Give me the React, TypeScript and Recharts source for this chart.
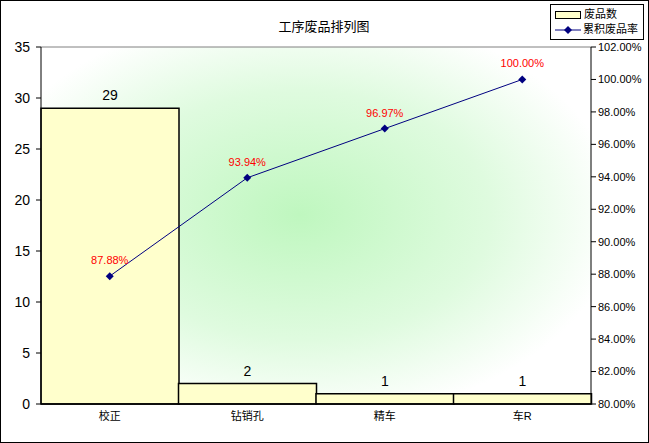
import React from 'react';
import {
  ComposedChart,
  Bar,
  Line,
  XAxis,
  YAxis,
  CartesianGrid,
  LabelList,
  Legend,
  ReferenceLine,
} from 'recharts';

const processes = ['校正', '钻销孔', '精车', '车R'];
const defectCounts = [29, 2, 1, 1];
const cumulativeRates = [87.88, 93.94, 96.97, 100.0];
const countTicks = [0, 5, 10, 15, 20, 25, 30, 35];
const rateTicks = [80, 82, 84, 86, 88, 90, 92, 94, 96, 98, 100, 102];

const data = processes.map((name, i) => ({
  name,
  count: defectCounts[i],
  rate: cumulativeRates[i],
}));

const FONT = '"Liberation Sans", Arial, "Noto Sans CJK SC", sans-serif';

const Diamond = (props: any) => {
  const { cx, cy } = props;
  if (cx == null || cy == null) return null;
  const s = 4;
  return (
    <path
      d={`M${cx},${cy - s}L${cx + s},${cy}L${cx},${cy + s}L${cx - s},${cy}Z`}
      fill="#000080"
    />
  );
};

const LegendBox = () => (
  <div
    style={{
      border: '1px solid #000',
      background: '#fff',
      width: 94,
      padding: '2px 0 2px 4px',
      fontFamily: FONT,
      fontSize: 11,
      lineHeight: '15px',
      boxSizing: 'border-box',
    }}
  >
    <div style={{ display: 'flex', alignItems: 'center' }}>
      <span
        style={{
          display: 'inline-block',
          width: 24,
          height: 6,
          background: '#FFFFCC',
          border: '1px solid #000',
          marginRight: 3,
        }}
      />
      废品数
    </div>
    <div style={{ display: 'flex', alignItems: 'center' }}>
      <svg width={26} height={10} style={{ marginRight: 2 }}>
        <line x1={0} y1={5} x2={26} y2={5} stroke="#000080" />
        <path d="M13,1L17,5L13,9L9,5Z" fill="#000080" />
      </svg>
      累积废品率
    </div>
  </div>
);

export default function App() {
  return (
    <div
      style={{
        position: 'absolute',
        left: 0,
        top: 0,
        width: 649,
        height: 443,
        border: '1px solid #000',
        boxSizing: 'border-box',
        background: '#fff',
        overflow: 'hidden',
      }}
    >
      <div style={{ position: 'absolute', left: -1, top: -1 }}>
        <ComposedChart
          width={649}
          height={443}
          data={data}
          margin={{ top: 47, right: 0, left: 0, bottom: 0 }}
          barCategoryGap={0}
          barGap={0}
          style={{ fontFamily: FONT }}
        >
          <defs>
            <radialGradient id="plotBg" cx="0.47" cy="0.47" r="0.58">
              <stop offset="0%" stopColor="#bff7bf" />
              <stop offset="60%" stopColor="#dffbdf" />
              <stop offset="100%" stopColor="#ffffff" />
            </radialGradient>
          </defs>
          <text
            x={324}
            y={31}
            textAnchor="middle"
            fontSize={13}
            fill="#000"
            fontFamily={FONT}
          >
            工序废品排列图
          </text>
          <CartesianGrid
            horizontal={false}
            vertical={false}
            fill="url(#plotBg)"
            fillOpacity={1}
          />
          <XAxis
            dataKey="name"
            height={39}
            axisLine={{ stroke: '#000', strokeWidth: 1.5 }}
            tickLine={false}
            tick={{ fontSize: 11, fill: '#000' }}
            interval={0}
          />
          <YAxis
            yAxisId="left"
            width={41}
            domain={[0, 35]}
            ticks={countTicks}
            axisLine={{ stroke: '#000' }}
            tickLine={{ stroke: '#000' }}
            tickSize={5}
            tickMargin={6}
            tick={{ fontSize: 14, fill: '#000' }}
          />
          <YAxis
            yAxisId="right"
            orientation="right"
            width={58}
            domain={[80, 102]}
            ticks={rateTicks}
            axisLine={{ stroke: '#000' }}
            tickLine={{ stroke: '#000' }}
            tickSize={5}
            tick={{ fontSize: 11, fill: '#000' }}
            tickFormatter={(v: number) => `${v.toFixed(2)}%`}
          />
          <ReferenceLine yAxisId="left" y={35} stroke="#808080" />
          <Bar
            yAxisId="left"
            dataKey="count"
            fill="#FFFFCC"
            stroke="#000"
            strokeWidth={1.5}
            isAnimationActive={false}
          >
            <LabelList
              dataKey="count"
              position="top"
              offset={8}
              fill="#000"
              fontSize={14}
            />
          </Bar>
          <Line
            yAxisId="right"
            type="linear"
            dataKey="rate"
            stroke="#000080"
            strokeWidth={1}
            dot={<Diamond />}
            activeDot={false}
            isAnimationActive={false}
          >
            <LabelList
              dataKey="rate"
              position="top"
              offset={12}
              fill="#ff0000"
              fontSize={11}
              formatter={(v: any) => `${Number(v).toFixed(2)}%`}
            />
          </Line>
          <Legend
            layout="horizontal"
            verticalAlign="middle"
            align="center"
            content={() => <LegendBox />}
            wrapperStyle={{ position: 'absolute', top: 4, left: 550, width: 94 }}
          />
        </ComposedChart>
      </div>
    </div>
  );
}
